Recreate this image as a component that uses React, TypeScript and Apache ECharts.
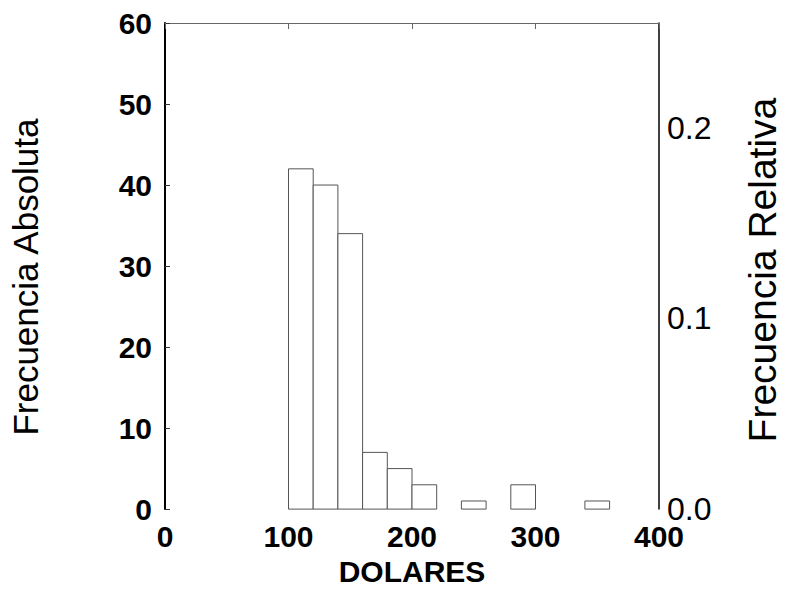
import React, { useEffect, useRef } from "react";
import * as echarts from "echarts";

// Histogram bins (DOLARES), width 20
const binStarts = [100, 120, 140, 160, 180, 200, 240, 280, 340];
const binWidth = 20;
const counts = [42, 40, 34, 7, 5, 3, 1, 3, 1];

const xTicks = [0, 100, 200, 300, 400];
const leftTicks = [0, 10, 20, 30, 40, 50, 60];
const rightTicks = [0.0, 0.1, 0.2];
const relMax = 0.255; // relative frequency at 60 counts

const FONT = "'Liberation Sans', Arial, sans-serif";

export default function App() {
  const ref = useRef<HTMLDivElement>(null);
  useEffect(() => {
    if (!ref.current) return;
    const chart = echarts.init(ref.current, null, { renderer: "svg" });
    const data = binStarts.map((s, i) => [s, s + binWidth, counts[i]]);
    chart.setOption({
      animation: false,
      backgroundColor: "#fff",
      grid: { left: 163, right: 108, top: 23, bottom: 70 },
      xAxis: [
        {
          type: "value",
          min: xTicks[0],
          max: xTicks[xTicks.length - 1],
          interval: 100,
          name: "DOLARES",
          nameLocation: "middle",
          nameGap: 43,
          nameTextStyle: { fontFamily: FONT, fontSize: 30, fontWeight: "bold", color: "#000" },
          axisLine: { show: false },
          axisTick: { show: false },
          splitLine: { show: false },
          axisLabel: {
            fontFamily: FONT,
            fontSize: 30,
            fontWeight: "bold",
            color: "#000",
            margin: 12,
          },
        },
        {
          type: "value",
          position: "top",
          min: 0,
          max: 400,
          interval: 100,
          axisLine: { show: true, onZero: false, lineStyle: { color: "#666", width: 1 } },
          axisTick: { show: true, inside: true, length: 6, lineStyle: { color: "#666" } },
          axisLabel: { show: false },
          splitLine: { show: false },
        },
      ],
      yAxis: [
        {
          type: "value",
          min: 0,
          max: 60,
          interval: 10,
          name: "Frecuencia Absoluta",
          nameLocation: "middle",
          nameGap: 122,
          nameTextStyle: { fontFamily: FONT, fontSize: 35, color: "#000", padding: [0, 22, 0, 0] },
          axisLine: { show: true, onZero: false, lineStyle: { color: "#000", width: 2 } },
          axisTick: { show: true, inside: true, length: 5, lineStyle: { color: "#333" } },
          splitLine: { show: false },
          axisLabel: {
            fontFamily: FONT,
            fontSize: 30,
            fontWeight: "bold",
            color: "#000",
            margin: 13,
          },
        },
        {
          type: "value",
          position: "right",
          min: 0,
          max: relMax,
          interval: 0.1,
          name: "Frecuencia Relativa",
          nameLocation: "middle",
          nameGap: 84,
          nameTextStyle: { fontFamily: FONT, fontSize: 39, color: "#000", padding: [0, 8, 0, 0] },
          axisLine: { show: true, onZero: false, lineStyle: { color: "#000", width: 1.5 } },
          axisTick: { show: false },
          splitLine: { show: false },
          axisLabel: {
            fontFamily: FONT,
            fontSize: 32,
            color: "#000",
            margin: 8,
            showMaxLabel: false,
            formatter: (v: number) => {
              const hit = rightTicks.find((t) => Math.abs(t - v) < 1e-6);
              return hit === undefined ? "" : hit.toFixed(1);
            },
          },
        },
      ],
      series: [
        {
          type: "custom",
          xAxisIndex: 0,
          yAxisIndex: 0,
          data,
          encode: { x: [0, 1], y: 2 },
          renderItem: (params: any, api: any) => {
            const x0 = api.value(0);
            const x1 = api.value(1);
            const y = api.value(2);
            const p0 = api.coord([x0, y]);
            const p1 = api.coord([x1, 0]);
            return {
              type: "rect",
              shape: { x: p0[0], y: p0[1], width: p1[0] - p0[0], height: p1[1] - p0[1] },
              style: { fill: "#fff", stroke: "#555", lineWidth: 1 },
            };
          },
        },
      ],
    });
    return () => chart.dispose();
  }, []);
  return <div ref={ref} style={{ width: 790, height: 591, position: "absolute", left: 0, top: 0 }} />;
}
